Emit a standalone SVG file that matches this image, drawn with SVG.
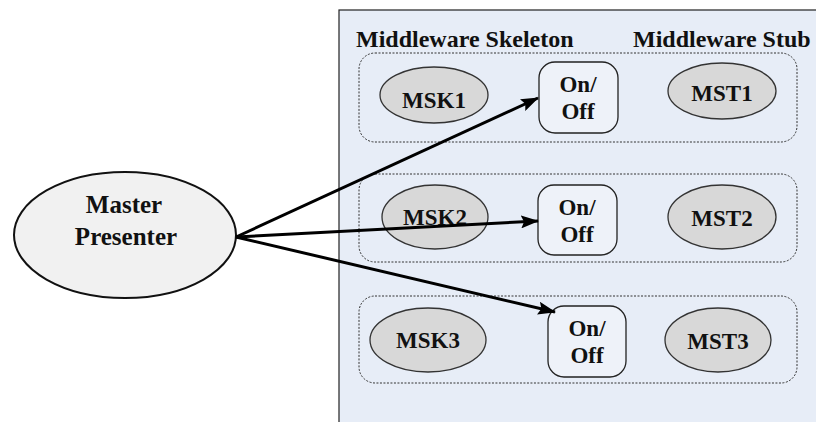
<svg xmlns="http://www.w3.org/2000/svg" width="816" height="422" viewBox="0 0 816 422">
  <defs>
    <marker id="arrow" markerUnits="userSpaceOnUse" markerWidth="18" markerHeight="13" refX="17" refY="6.5" orient="auto">
      <path d="M0,0 L18,6.5 L0,13 L3,6.5 Z" fill="#000"/>
    </marker>
    <style>
      .lbl { font-family: "Liberation Serif", "Times New Roman", serif; font-weight: bold; fill: #111; text-anchor: middle; }
      .hdr { font-size: 24px; text-anchor: start; }
      .node { font-size: 23px; }
      .big { font-size: 25px; }
      .panel { fill: #e7edf7; stroke: #222; stroke-width: 1.2; }
      .group { fill: none; stroke: #333; stroke-width: 1; stroke-dasharray: 2 1.5; }
      .gray { fill: #d8d8d8; stroke: #333; stroke-width: 1.3; }
      .switch { fill: #eef2f9; stroke: #222; stroke-width: 1.3; }
      .conn { fill: none; stroke: #000; stroke-width: 3; marker-end: url(#arrow); }
    </style>
  </defs>

  <rect width="816" height="422" fill="#ffffff"/>

  <!-- middleware panel -->
  <rect id="panel" class="panel" x="339" y="10" width="490" height="430"/>
  <text class="lbl hdr" x="356" y="47">Middleware Skeleton</text>
  <text class="lbl hdr" x="633" y="47">Middleware Stub</text>

  <!-- row groups -->
  <rect class="group" x="359" y="53" width="438" height="89" rx="16"/>
  <rect class="group" x="359" y="174" width="438" height="88" rx="16"/>
  <rect class="group" x="359" y="296" width="438" height="87" rx="16"/>

  <!-- master presenter -->
  <g id="master">
    <ellipse cx="125" cy="235" rx="111" ry="63" fill="#f1f1f1" stroke="#111" stroke-width="2"/>
    <text class="lbl big" x="124" y="213">Master</text>
    <text class="lbl big" x="126" y="245">Presenter</text>
  </g>

  <!-- row 1 -->
  <g id="msk1">
    <ellipse class="gray" cx="434" cy="95" rx="54" ry="28"/>
    <text class="lbl node" x="434" y="108">MSK1</text>
  </g>
  <g id="switch1">
    <rect class="switch" x="539" y="62" width="79" height="71" rx="16"/>
    <text class="lbl node" x="578" y="92">On/</text>
    <text class="lbl node" x="578" y="119">Off</text>
  </g>
  <g id="mst1">
    <ellipse class="gray" cx="722" cy="91" rx="54" ry="28"/>
    <text class="lbl node" x="722" y="101">MST1</text>
  </g>

  <!-- row 2 -->
  <g id="msk2">
    <ellipse class="gray" cx="435" cy="217" rx="53" ry="32"/>
    <text class="lbl node" x="435" y="225">MSK2</text>
  </g>
  <g id="switch2">
    <rect class="switch" x="538" y="185" width="79" height="70" rx="16"/>
    <text class="lbl node" x="577" y="215">On/</text>
    <text class="lbl node" x="577" y="242">Off</text>
  </g>
  <g id="mst2">
    <ellipse class="gray" cx="722" cy="217" rx="54" ry="32"/>
    <text class="lbl node" x="722" y="226">MST2</text>
  </g>

  <!-- row 3 -->
  <g id="msk3">
    <ellipse class="gray" cx="428" cy="340" rx="58" ry="32"/>
    <text class="lbl node" x="428" y="348">MSK3</text>
  </g>
  <g id="switch3">
    <rect class="switch" x="548" y="306" width="78" height="71" rx="16"/>
    <text class="lbl node" x="587" y="336">On/</text>
    <text class="lbl node" x="587" y="363">Off</text>
  </g>
  <g id="mst3">
    <ellipse class="gray" cx="718" cy="340" rx="53" ry="32"/>
    <text class="lbl node" x="718" y="349">MST3</text>
  </g>

  <!-- connectors -->
  <g id="connectors">
    <line class="conn" x1="236" y1="237" x2="538" y2="98"/>
    <line class="conn" x1="236" y1="237" x2="538" y2="221"/>
    <line class="conn" x1="236" y1="237" x2="555" y2="312"/>
  </g>
</svg>
